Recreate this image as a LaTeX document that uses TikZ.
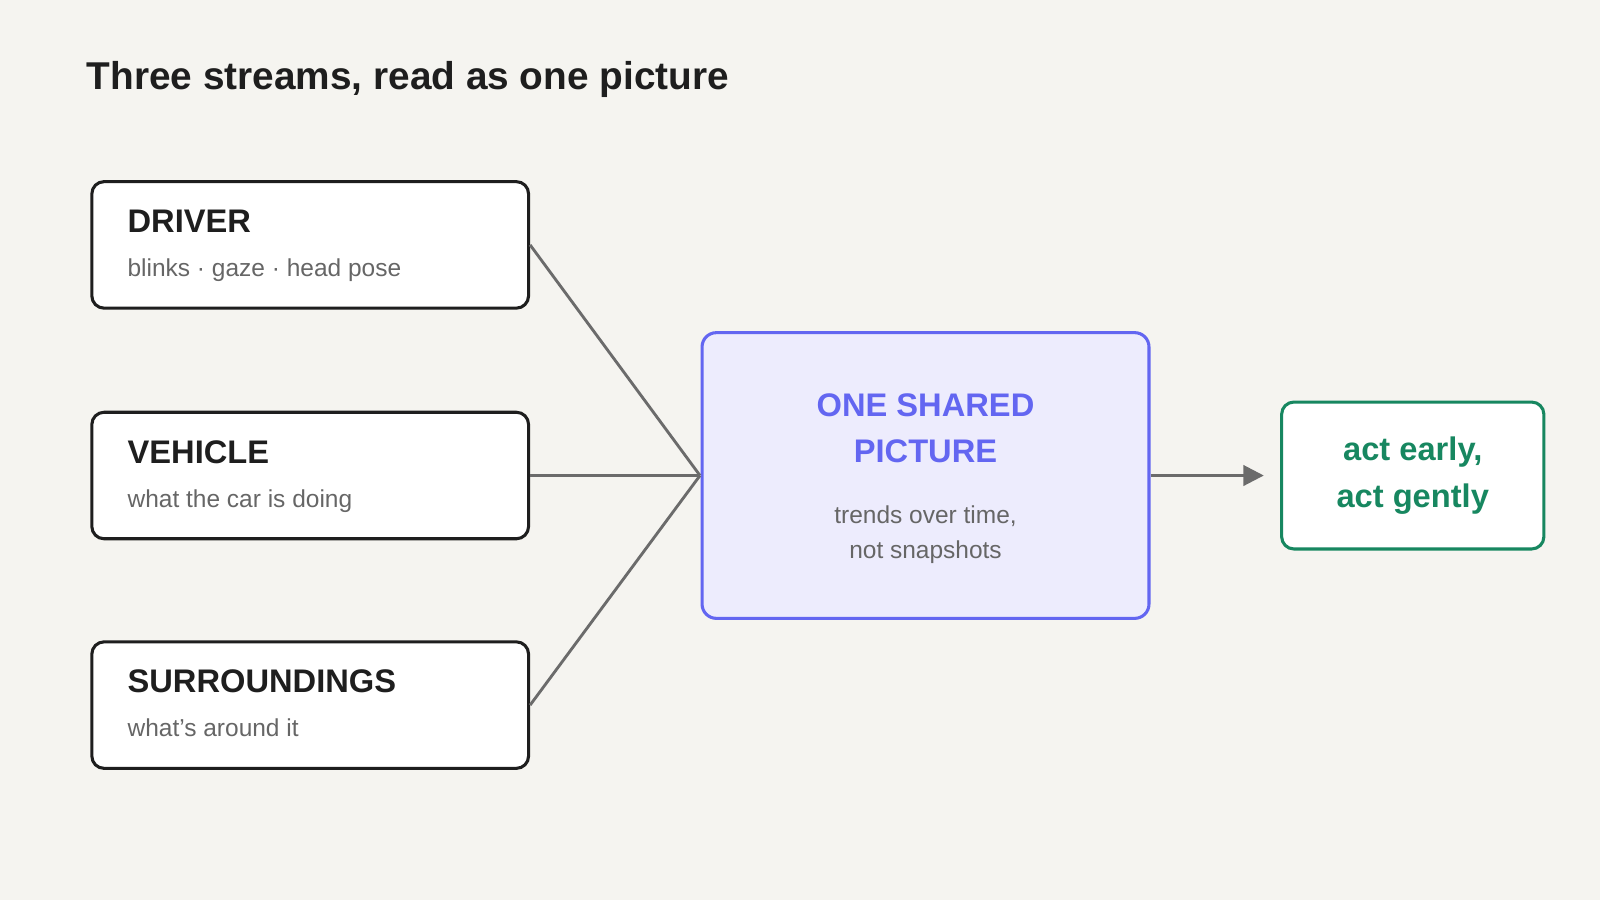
\documentclass[tikz,border=0pt]{standalone}
\usepackage{fontspec}
\setmainfont{Liberation Sans}
\usetikzlibrary{arrows.meta}
\definecolor{bg}{HTML}{F5F4F0}
\definecolor{ink}{HTML}{1E1E1E}
\definecolor{sub}{HTML}{666666}
\definecolor{conn}{HTML}{6B6B6B}
\definecolor{blue}{HTML}{6366F1}
\definecolor{bluefill}{HTML}{EDECFD}
\definecolor{grn}{HTML}{178760}
\begin{document}
\begin{tikzpicture}[x=0.5pt,y=-0.5pt,
  src/.style={draw=ink,line width=1.5pt,fill=white,rounded corners=6pt,minimum width=214pt,minimum height=62pt,inner sep=0pt},
  conn/.style={draw=conn,line width=1.4pt}]
\fill[bg] (0,0) rectangle (1568,882);
\useasboundingbox (0,0) rectangle (1568,882);
\node[anchor=base west,font=\bfseries\fontsize{19pt}{22pt}\selectfont,text=ink] (title) at (78,88) {Three streams, read as one picture};
\foreach \n/\y/\t/\s in {drv/240/DRIVER/blinks · gaze · head pose, veh/466/VEHICLE/what the car is doing, sur/691/SURROUNDINGS/what's around it}{
  \node[src] (\n) at (304,\y) {};
  \node[anchor=base west,font=\bfseries\fontsize{16pt}{19pt}\selectfont,text=ink] (\n t) at (118,\y-12) {\t};
  \node[anchor=base west,font=\fontsize{12pt}{14pt}\selectfont,text=sub] (\n s) at (118,\y+31) {\s};
}
\node[draw=blue,fill=bluefill,line width=1.5pt,rounded corners=7pt,minimum width=219pt,minimum height=140pt] (mid) at (907,466) {};
\node[align=center,font=\bfseries\fontsize{16pt}{22.5pt}\selectfont,text=blue] (midt) at (907,420) {ONE SHARED\\PICTURE};
\node[align=center,font=\fontsize{12pt}{17pt}\selectfont,text=sub] (mids) at (907,524) {trends over time,\\not snapshots};
\node[draw=grn,fill=white,line width=1.5pt,rounded corners=6pt,minimum width=128.5pt,minimum height=72pt,align=center,font=\bfseries\fontsize{16pt}{23pt}\selectfont,text=grn] (act) at (1384.5,466) {act early,\\act gently};
\coordinate (hub) at (686,466);
\draw[conn] (drv.east) -- (hub);
\draw[conn] (veh.east) -- (hub);
\draw[conn] (sur.east) -- (hub);
\draw[conn,-{Triangle[length=10pt,width=10pt]}] (mid.east) -- ([xshift=-8]act.west);
\end{tikzpicture}
\end{document}
